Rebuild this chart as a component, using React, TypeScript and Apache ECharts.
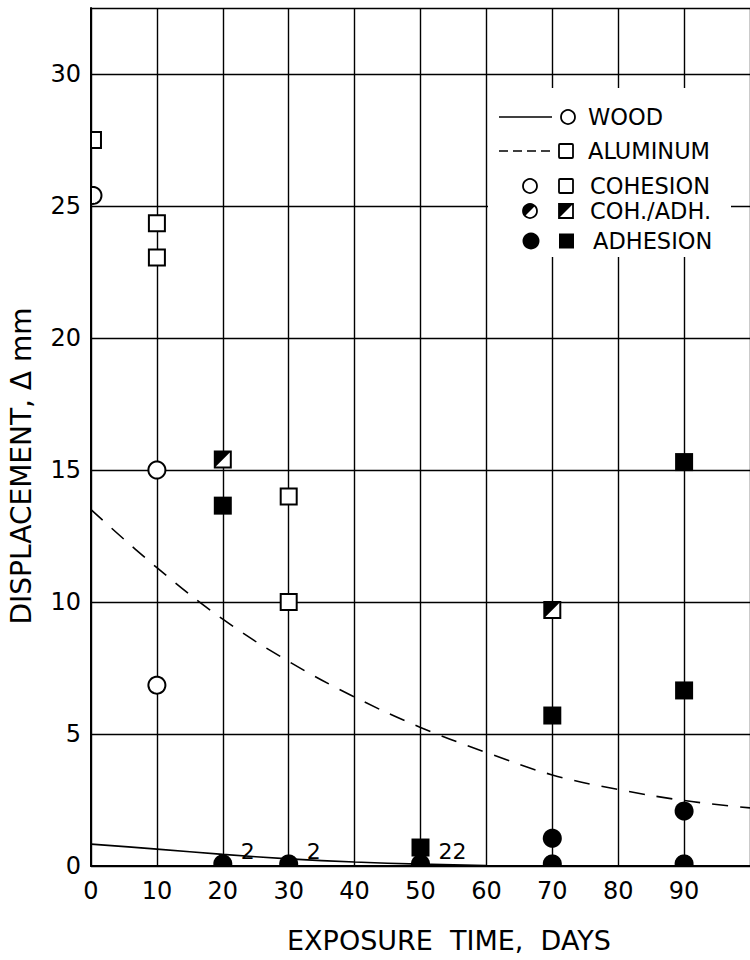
import React, { useEffect, useRef } from "react";
import * as echarts from "echarts";

// ---- data ----
const woodCurve = [[0, 0.83], [10, 0.64], [20, 0.44], [30, 0.27], [40, 0.15], [50, 0.07], [60, 0.02], [68, 0]];
const aluminumCurve = [[0, 13.5], [10, 11.3], [20, 9.35], [30, 7.75], [40, 6.4], [50, 5.25], [60, 4.3], [70, 3.45], [80, 2.9], [90, 2.48], [100, 2.2]];
const woodCohesion = [[0.3, 25.4], [10, 15.0], [10, 6.85]];
const aluminumCohesion = [[0.3, 27.5], [10, 24.35], [10, 23.05], [30, 14.0], [30, 10.0]];
const aluminumCohAdh = [[20, 15.4], [70, 9.7]];
const aluminumAdhesion = [[20, 13.65], [50, 0.7], [70, 5.7], [90, 15.3], [90, 6.65]];
const woodAdhesion = [[20, 0.08], [30, 0.08], [50, 0.08], [70, 1.05], [70, 0.08], [90, 2.08], [90, 0.08]];
const woodAdhesionCounts = ["2", "2", "22", "", "", "", ""];

const legendRows = ["WOOD", "ALUMINUM", "COHESION", "COH./ADH.", "ADHESION"];
const xTitle = "EXPOSURE  TIME,  DAYS";
const yTitle = "DISPLACEMENT, \u0394 mm";

const FONT = '"DejaVu Sans", sans-serif';
const INK = "#000";

function clampPt(x: number, y: number, cs: any) {
  return [
    Math.min(Math.max(x, cs.x), cs.x + cs.width),
    Math.min(Math.max(y, cs.y), cs.y + cs.height),
  ];
}

// circle as polygon, clipped to the plotting area
function circlePts(cx: number, cy: number, r: number, cs: any) {
  const pts: number[][] = [];
  const n = 48;
  for (let i = 0; i < n; i++) {
    const t = (i / n) * Math.PI * 2;
    pts.push(clampPt(cx + r * Math.cos(t), cy + r * Math.sin(t), cs));
  }
  return pts;
}

function rectPts(cx: number, cy: number, h: number, cs: any) {
  return [
    clampPt(cx - h, cy - h, cs),
    clampPt(cx + h, cy - h, cs),
    clampPt(cx + h, cy + h, cs),
    clampPt(cx - h, cy + h, cs),
  ];
}

function markerSeries(data: number[][], kind: string, labels?: string[]) {
  return {
    type: "custom",
    clip: true,
    z: 5,
    data,
    encode: { x: 0, y: 1 },
    renderItem: (params: any, api: any) => {
      const p = api.coord([api.value(0), api.value(1)]);
      const cx = p[0];
      const cy = p[1];
      const cs = params.coordSys;
      const children: any[] = [];
      const open = { fill: "#fff", stroke: INK, lineWidth: 2 };
      if (kind === "openSquare") {
        children.push({ type: "polygon", shape: { points: rectPts(cx, cy, 8, cs) }, style: open });
      } else if (kind === "openCircle") {
        children.push({ type: "polygon", shape: { points: circlePts(cx, cy, 8.5, cs) }, style: open });
      } else if (kind === "halfSquare") {
        children.push({ type: "polygon", shape: { points: rectPts(cx, cy, 8, cs) }, style: open });
        children.push({ type: "polygon", shape: { points: [[cx - 8, cy - 8], [cx + 8, cy - 8], [cx - 8, cy + 8]] }, style: { fill: INK } });
      } else if (kind === "filledSquare") {
        children.push({ type: "polygon", shape: { points: rectPts(cx, cy, 9, cs) }, style: { fill: INK } });
      } else if (kind === "filledCircle") {
        children.push({ type: "polygon", shape: { points: circlePts(cx, cy, 9.5, cs) }, style: { fill: INK } });
      }
      const lbl = labels ? labels[params.dataIndex] : "";
      if (lbl) {
        children.push({
          type: "text",
          style: {
            text: lbl, x: cx + 18, y: cy - 12, fill: INK, fontSize: 22, fontFamily: FONT,
            textAlign: "left", textVerticalAlign: "middle", align: "left", verticalAlign: "middle",
          },
        });
      }
      return { type: "group", children };
    },
  };
}

function legendGraphic() {
  const els: any[] = [];
  els.push({ type: "rect", z: 100, shape: { x: 488, y: 88, width: 243, height: 169 }, style: { fill: "#fff" } });
  const rowsY = [117, 151, 186, 211, 241];
  const textX = [588, 588, 590, 590, 593];
  // row 1: wood
  els.push({ type: "line", z: 101, shape: { x1: 499, y1: rowsY[0], x2: 552, y2: rowsY[0] }, style: { stroke: INK, lineWidth: 1.6 } });
  els.push({ type: "circle", z: 101, shape: { cx: 568, cy: rowsY[0], r: 7 }, style: { fill: "#fff", stroke: INK, lineWidth: 1.8 } });
  // row 2: aluminum
  els.push({ type: "line", z: 101, shape: { x1: 499, y1: rowsY[1], x2: 552, y2: rowsY[1] }, style: { stroke: INK, lineWidth: 1.6, lineDash: [9, 5] } });
  els.push({ type: "rect", z: 101, shape: { x: 559, y: rowsY[1] - 7, width: 14, height: 14, r: 1 }, style: { fill: "#fff", stroke: INK, lineWidth: 1.8 } });
  // row 3: cohesion
  els.push({ type: "circle", z: 101, shape: { cx: 530, cy: rowsY[2], r: 7 }, style: { fill: "#fff", stroke: INK, lineWidth: 1.8 } });
  els.push({ type: "rect", z: 101, shape: { x: 559, y: rowsY[2] - 7, width: 14, height: 14, r: 1 }, style: { fill: "#fff", stroke: INK, lineWidth: 1.8 } });
  // row 4: coh./adh.
  els.push({ type: "circle", z: 101, shape: { cx: 530, cy: rowsY[3], r: 7 }, style: { fill: "#fff", stroke: INK, lineWidth: 1.8 } });
  els.push({ type: "sector", z: 102, shape: { cx: 530, cy: rowsY[3], r0: 0, r: 7, startAngle: (3 * Math.PI) / 4, endAngle: (7 * Math.PI) / 4, clockwise: true }, style: { fill: INK } });
  els.push({ type: "rect", z: 101, shape: { x: 559, y: rowsY[3] - 7, width: 14, height: 14 }, style: { fill: "#fff", stroke: INK, lineWidth: 1.8 } });
  els.push({ type: "polygon", z: 102, shape: { points: [[559, rowsY[3] - 7], [573, rowsY[3] - 7], [559, rowsY[3] + 7]] }, style: { fill: INK } });
  // row 5: adhesion
  els.push({ type: "circle", z: 101, shape: { cx: 531, cy: rowsY[4], r: 8.5 }, style: { fill: INK } });
  els.push({ type: "rect", z: 101, shape: { x: 559, y: rowsY[4] - 7.5, width: 15, height: 15 }, style: { fill: INK } });
  legendRows.forEach((t, i) => {
    els.push({
      type: "text", z: 101,
      style: {
        text: t, x: textX[i], y: rowsY[i], fill: INK, fontSize: 22.5, fontFamily: FONT,
        textAlign: "left", textVerticalAlign: "middle", align: "left", verticalAlign: "middle",
      },
    });
  });
  return els;
}

export default function App() {
  const ref = useRef<HTMLDivElement>(null);
  useEffect(() => {
    if (!ref.current) return;
    const chart = echarts.init(ref.current, null, { renderer: "svg" });
    const axisCommon = {
      axisLine: { show: true, lineStyle: { color: INK, width: 2 } },
      axisTick: { show: false },
      splitLine: { show: true, lineStyle: { color: INK, width: 1.4 } },
    };
    chart.setOption({
      animation: false,
      backgroundColor: "#fff",
      grid: { left: 91, right: -1, top: 8, bottom: 94 },
      xAxis: {
        type: "value", min: 0, max: 100, interval: 10,
        ...axisCommon,
        axisLabel: { color: INK, fontSize: 24, fontFamily: FONT, margin: 13, showMaxLabel: false },
      },
      yAxis: {
        type: "value", min: 0, max: 32.5, interval: 5,
        ...axisCommon,
        axisLabel: { color: INK, fontSize: 24, fontFamily: FONT, margin: 10, showMaxLabel: false },
      },
      series: [
        {
          type: "line", data: woodCurve, smooth: 0.3, symbol: "none", clip: true, z: 3,
          lineStyle: { color: INK, width: 1.6 },
        },
        {
          type: "line", data: aluminumCurve, smooth: 0.4, symbol: "none", clip: true, z: 3,
          lineStyle: { color: INK, width: 1.6, type: [16, 12] },
        },
        markerSeries(woodCohesion, "openCircle"),
        markerSeries(aluminumCohesion, "openSquare"),
        markerSeries(aluminumCohAdh, "halfSquare"),
        markerSeries(aluminumAdhesion, "filledSquare"),
        markerSeries(woodAdhesion, "filledCircle", woodAdhesionCounts),
      ],
      graphic: [
        ...legendGraphic(),
        {
          type: "text", z: 101,
          style: {
            text: xTitle, x: 449, y: 940, fill: INK, fontSize: 27, fontFamily: FONT,
            textAlign: "center", textVerticalAlign: "middle", align: "center", verticalAlign: "middle",
          },
        },
        {
          type: "text", z: 101, x: 21, y: 466, rotation: Math.PI / 2,
          style: {
            text: yTitle, x: 0, y: 0, fill: INK, fontSize: 28, fontFamily: FONT,
            textAlign: "center", textVerticalAlign: "middle", align: "center", verticalAlign: "middle",
          },
        },
      ],
    });
    return () => chart.dispose();
  }, []);
  return <div ref={ref} style={{ position: "absolute", left: 0, top: 0, width: 750, height: 960 }} />;
}
